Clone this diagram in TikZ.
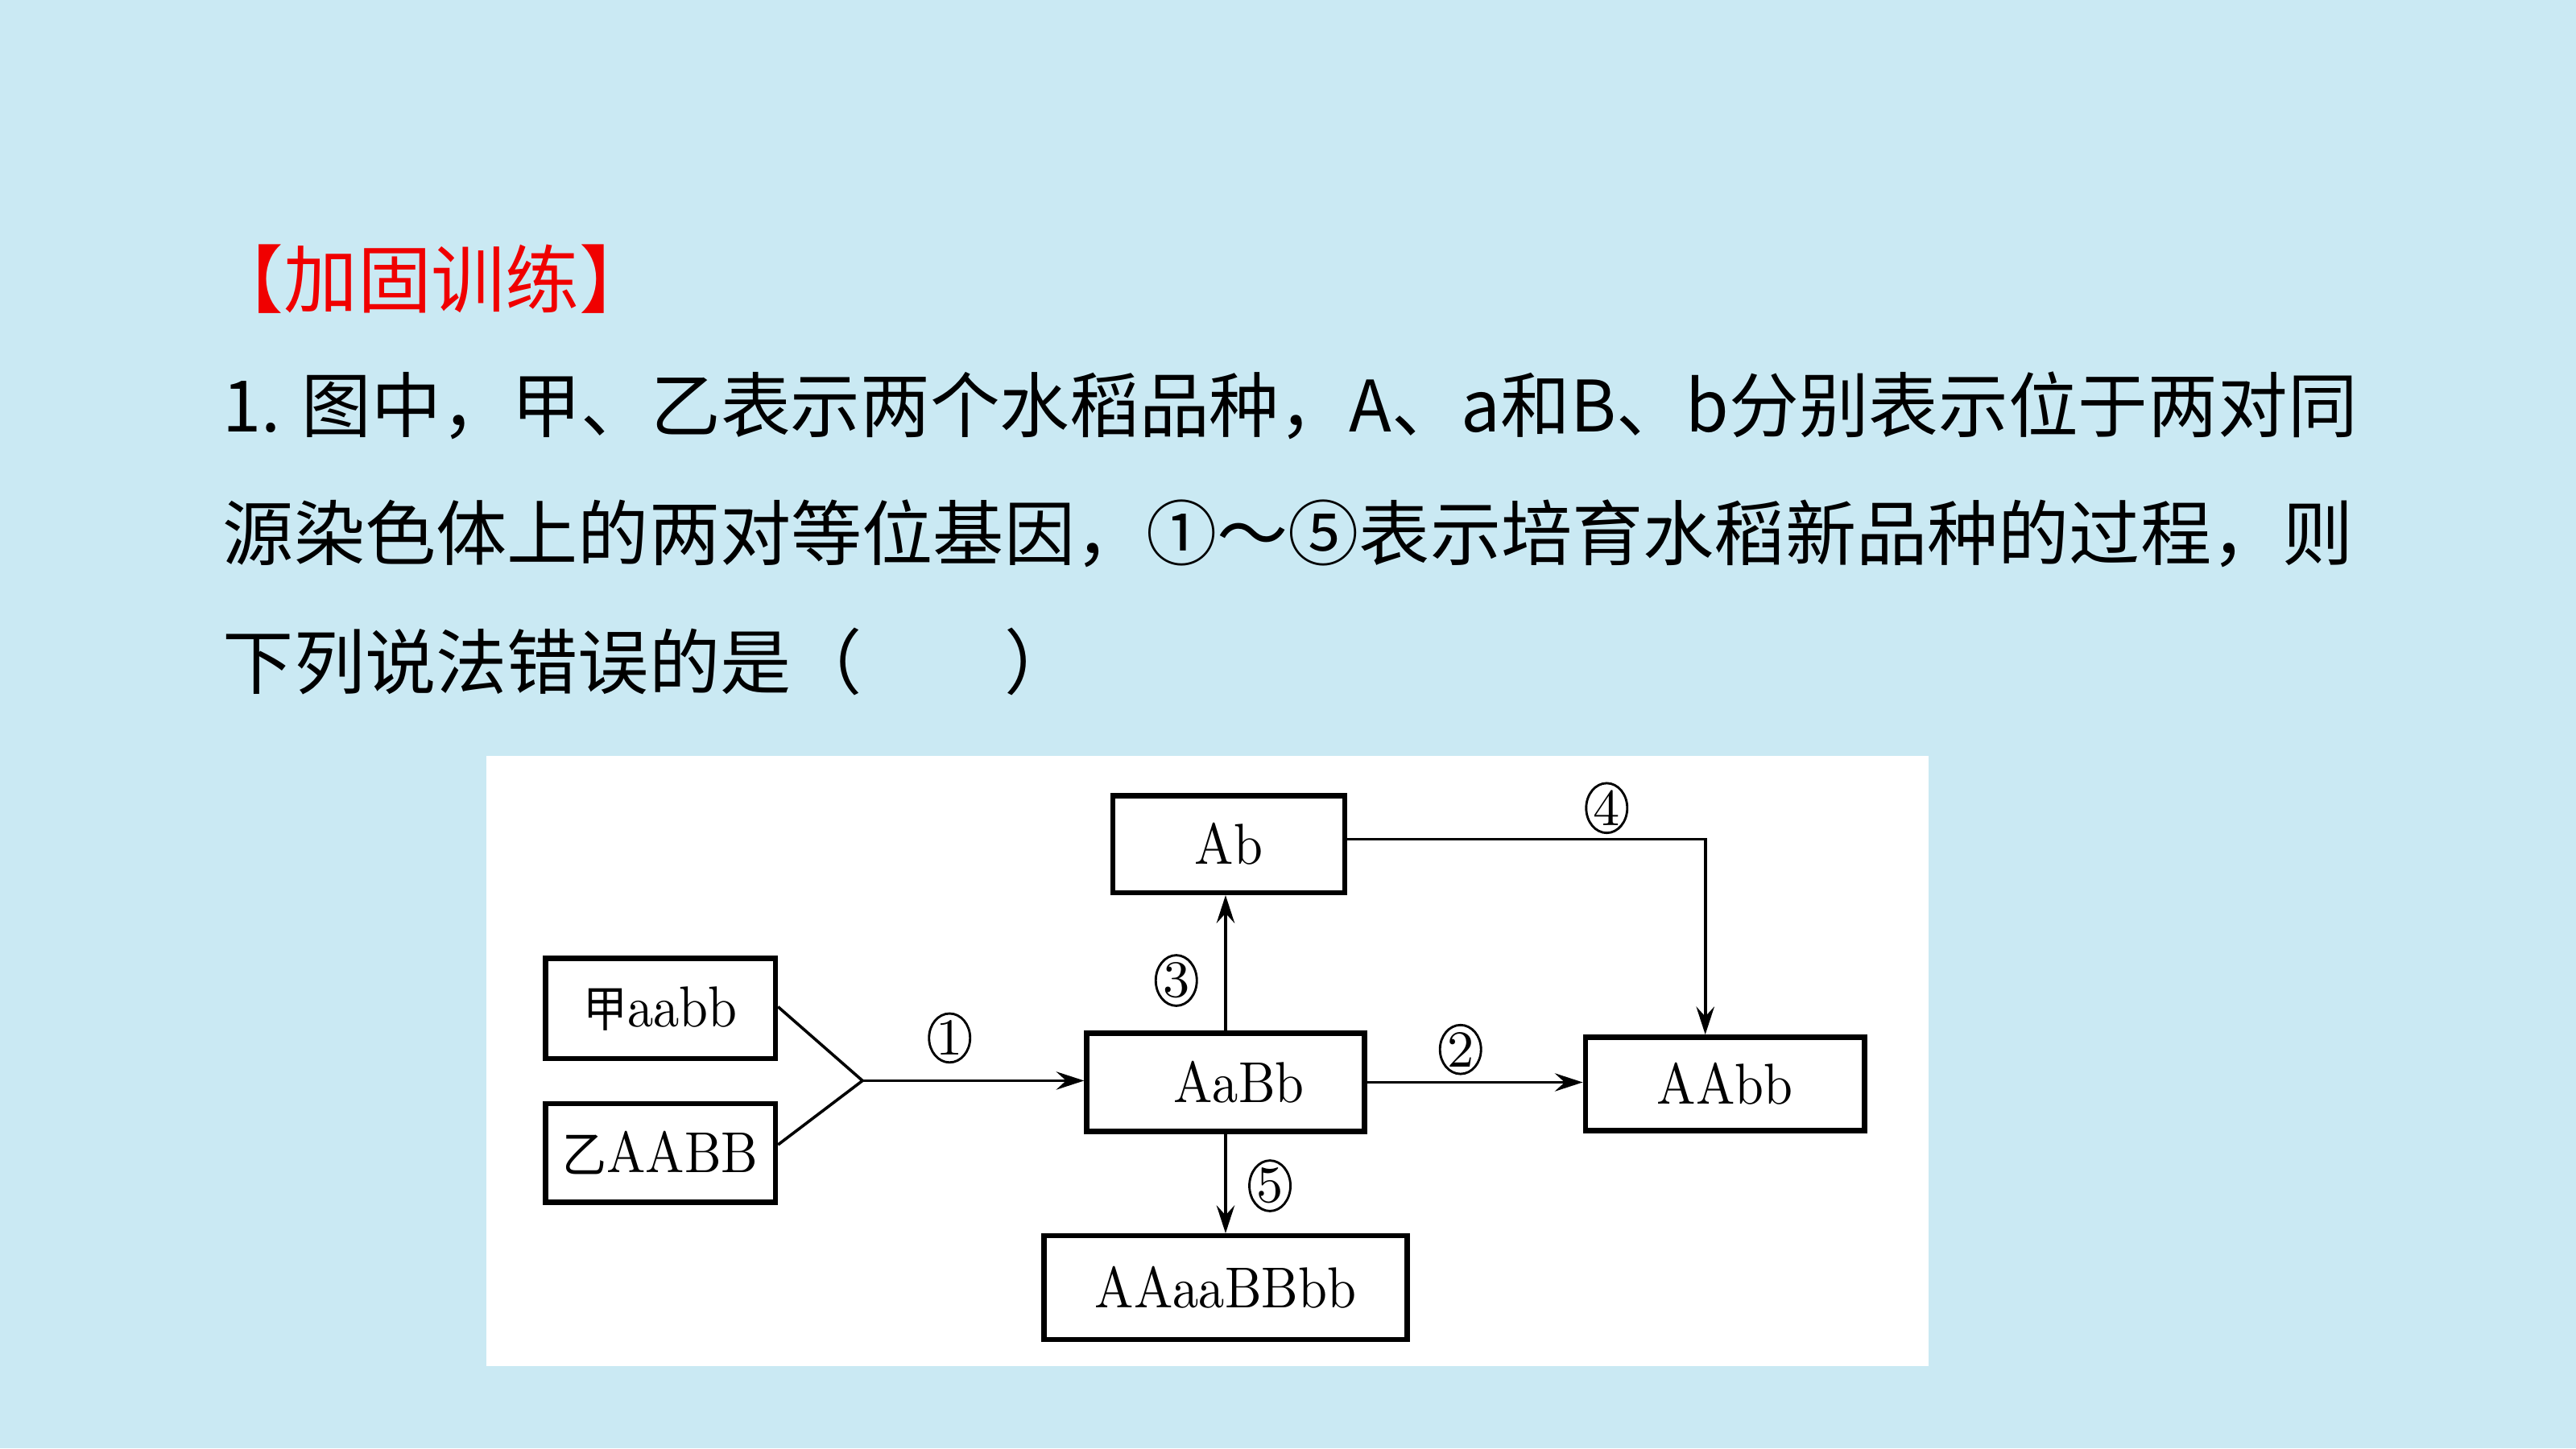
\documentclass[tikz,border=0pt]{standalone}
\usepackage{fontspec}
\newfontfamily\cjk{Noto Sans CJK SC}
\usetikzlibrary{arrows.meta,shapes.geometric}
\definecolor{slidebg}{RGB}{202,233,243}
\definecolor{titlered}{RGB}{240,0,0}
\newcommand{\gtxt}[1]{\scalebox{0.9}[1]{#1}}

\tikzset{
  gbox/.style={draw, line width=0.9pt, fill=white, inner sep=0pt,
    font=\fontsize{10}{12}\selectfont},
  flow/.style={-{Stealth[length=1.7mm,width=1.1mm,inset=0.6mm]}, line width=0.5pt},
  stepno/.style={ellipse, draw, line width=0.4pt, inner sep=0pt,
    minimum width=2.5mm, minimum height=2.9mm, font=\fontsize{9}{10}\selectfont},
  qline/.style={anchor=west, inner sep=0pt, font=\cjk\fontsize{12.3}{14}\selectfont},
}

\begin{document}
\begin{tikzpicture}[x=0.1mm,y=-0.1mm]
    \fill[slidebg] (0,0) rectangle (1568,882);
    \useasboundingbox (0,0) rectangle (1568,882);

    % question text
    \node[qline, text=titlered, font=\cjk\fontsize{12.8}{14}\selectfont] (title) at (127,170) {【加固训练】};
    \node[qline] (line1) at (135,247) {\scalebox{0.983}[1]{1. 图中，甲、乙表示两个水稻品种，A、a和B、b分别表示位于两对同}};
    \node[qline] (line2) at (135,325) {源染色体上的两对等位基因，①～⑤表示培育水稻新品种的过程，则};
    \node[qline] (line3) at (135,403) {下列说法错误的是（　　）};

    % breeding scheme
    \fill[white] (296,460) rectangle (1174,832);
    \node[gbox, minimum width=14mm, minimum height=6.1mm] (jia) at (402,614) {\gtxt{{\cjk\fontsize{8.5}{10}\selectfont 甲}aabb}};
    \node[gbox, minimum width=14mm, minimum height=6mm] (yi) at (402,702) {\gtxt{{\cjk\fontsize{8.5}{10}\selectfont 乙}AABB}};
    \node[gbox, minimum width=16.9mm, minimum height=6mm] (hybrid) at (746,659) {\gtxt{\hspace{1.8mm}AaBb}};
    \node[gbox, minimum width=14.1mm, minimum height=5.9mm] (haploid) at (748,514) {\gtxt{Ab}};
    \node[gbox, minimum width=17mm, minimum height=5.7mm] (pure) at (1050,660) {\gtxt{AAbb}};
    \node[gbox, minimum width=22.1mm, minimum height=6.3mm] (poly) at (746,784) {\gtxt{AAaaBBbb}};

    \coordinate (join) at (525,658);
    \draw[line width=0.5pt] ([yshift=0.1mm]jia.east) -- (join) -- ([yshift=0.5mm]yi.east);
    \draw[flow] (join) -- (join -| hybrid.west);
    \draw[flow] (hybrid.east) -- (hybrid.east -| pure.west);
    \draw[flow] (hybrid.north) -- (hybrid.north |- haploid.south);
    \draw[flow] ([yshift=0.3mm]haploid.east) -| ([xshift=-1.2mm]pure.north);
    \draw[flow] (hybrid.south) -- (hybrid.south |- poly.north);

    \node[stepno] (s1) at (578,632) {1};
    \node[stepno] (s2) at (889,639) {2};
    \node[stepno] (s3) at (716,597) {3};
    \node[stepno] (s4) at (978,492) {4};
    \node[stepno] (s5) at (773,722) {5};
\end{tikzpicture}
\end{document}
